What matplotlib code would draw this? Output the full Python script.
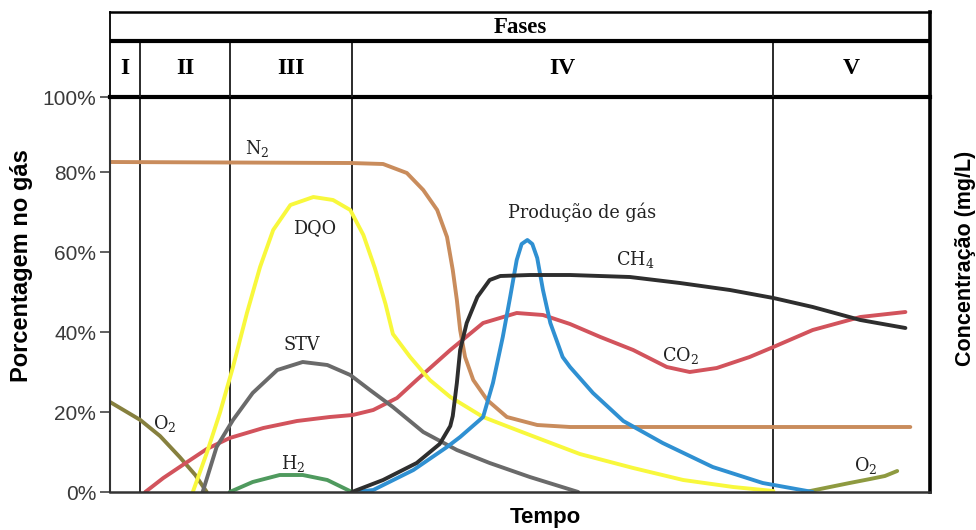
import matplotlib
matplotlib.use("Agg")
import matplotlib.pyplot as plt

# phases (time units 0-100 across the plot)
phase_edges = [3.7, 14.6, 29.5, 80.9]
phase_names = ["I", "II", "III", "IV", "V"]

# curves: x = time, y = %
n2_x = [0, 29.3, 33.3, 36.2, 38.2, 39.9, 41.1, 41.8, 42.3, 42.7, 43.3, 44.3, 46.0, 48.4, 52.1, 56.1, 97.6]
n2_y = [82.5, 82.25, 82, 79.75, 75.5, 70.5, 63.75, 55.5, 48, 40.5, 33.75, 28, 23, 18.75, 16.75, 16.25, 16.25]

dqo_x = [10.1, 11.8, 13.4, 15.0, 16.7, 18.3, 19.9, 22.0, 24.8, 27.2, 29.3, 30.9, 32.3, 33.6,
         34.5, 36.6, 39.0, 41.5, 45.5, 49.6, 52.8, 57.3, 63.8, 69.9, 76.0, 80.9]
dqo_y = [0, 9.75, 19.75, 31.25, 44.75, 56.25, 65.5, 71.75, 73.75, 73, 70.5, 64.25, 56, 47,
         39.5, 33.75, 28, 23.75, 18.75, 15.5, 13, 9.5, 6, 3, 1.25, 0.25]

stv_x = [11.3, 13.0, 15.0, 17.4, 20.4, 23.5, 26.5, 29.3, 31.7, 34.5, 38.2, 42.3, 46.3, 51.2, 57.1]
stv_y = [0, 11.25, 18, 24.75, 30.5, 32.5, 31.75, 29.25, 25.5, 21.25, 15, 10.5, 7.25, 3.75, 0]

h2_x = [14.6, 17.4, 20.7, 23.5, 26.5, 29.5]
h2_y = [0, 2.5, 4.25, 4.25, 3, 0]

o2a_x = [0, 3.7, 6.1, 8.5, 10.4, 11.8]
o2a_y = [22.5, 18, 14, 8.75, 4.25, 0]

o2b_x = [84.8, 87.8, 90.2, 92.7, 94.5, 96.0]
o2b_y = [0, 1.25, 2.25, 3.25, 4, 5.25]

co2_x = [4.3, 6.5, 8.5, 11.8, 14.6, 18.7, 22.8, 26.8, 29.6, 32.1, 35.0, 37.4, 41.5, 45.5,
         49.6, 52.8, 56.1, 59.8, 63.8, 67.9, 70.7, 74.0, 78.0, 80.9, 85.7, 91.5, 97.0]
co2_y = [0, 3.5, 6.25, 10.75, 13.5, 16, 17.75, 18.75, 19.25, 20.5, 23.5, 28, 35.5, 42.25,
         44.75, 44.25, 42, 38.75, 35.5, 31.25, 30, 31, 33.75, 36.25, 40.5, 43.75, 45]

ch4_x = [29.5, 33.3, 37.4, 40.2, 41.5, 41.8, 42.3, 42.7, 43.5, 44.8, 46.3, 47.6, 51.2, 56.1,
         63.4, 69.5, 75.6, 80.9, 85.7, 91.5, 97.0]
ch4_y = [0, 3, 7.25, 12, 16.5, 19, 27.25, 35.5, 42.25, 48.75, 53, 54, 54.25, 54.25,
         53.75, 52.25, 50.5, 48.5, 46.25, 43, 41]

gas_x = [29.9, 32.1, 37.0, 41.1, 42.7, 45.5, 46.7, 47.9, 48.8, 49.6, 50.2, 50.9, 51.5, 52.1,
         52.8, 53.7, 55.2, 56.1, 58.9, 62.6, 67.4, 73.5, 79.6, 85.7]
gas_y = [0, 0.5, 5.5, 11.25, 13.75, 18.75, 27.25, 38.75, 48.75, 58, 62, 63, 62, 58.5,
         50.5, 42.25, 33.75, 31.25, 24.75, 17.75, 12.25, 6.25, 2.25, 0]

ytick_vals = [0, 20, 40, 60, 80, 98.75]
ytick_labels = ["0%", "20%", "40%", "60%", "80%", "100%"]

plt.rcParams["mathtext.fontset"] = "dejavuserif"

fig = plt.figure(figsize=(9.76, 5.3), dpi=100)
ax = fig.add_axes([110 / 976, 38 / 530, 820 / 976, 395 / 530])
hax = fig.add_axes([110 / 976, 433 / 530, 820 / 976, 85 / 530])

lw = 2.8
style = dict(lw=lw, solid_joinstyle="round", solid_capstyle="round")
ax.plot(n2_x, n2_y, color="#c98c5c", **style)
ax.plot(o2a_x, o2a_y, color="#86803e", **style)
ax.plot(o2b_x, o2b_y, color="#8e9a40", **style)
ax.plot(co2_x, co2_y, color="#d2535c", **style)
ax.plot(dqo_x, dqo_y, color="#f8f83c", **style)
ax.plot(stv_x, stv_y, color="#6a6a6a", **style)
ax.plot(h2_x, h2_y, color="#4f9a5e", **style)
ax.plot(gas_x, gas_y, color="#2f90d2", **style)
ax.plot(ch4_x, ch4_y, color="#2e2e2e", **style)

for e in phase_edges:
    ax.axvline(e, color="#1a1a1a", lw=1.3, zorder=0)
    hax.axvline(e, ymin=0, ymax=0.66, color="#1a1a1a", lw=1.3)

ax.set_xlim(0, 100)
ax.set_ylim(0, 98.75)
ax.set_xticks([])
ax.set_yticks(ytick_vals)
ax.set_yticklabels(ytick_labels, fontfamily="Liberation Sans", fontsize=15, color="#3a3a3a")
ax.tick_params(axis="y", length=7, width=1.2, color="#444444", pad=3)
ax.spines["left"].set_color("#333333")
ax.spines["left"].set_linewidth(1.5)
ax.spines["bottom"].set_color("#333333")
ax.spines["bottom"].set_linewidth(1.8)
ax.spines["right"].set_color("black")
ax.spines["right"].set_linewidth(2.6)
ax.spines["top"].set_color("black")
ax.spines["top"].set_linewidth(3.0)

# header table with phases
hax.set_facecolor("none")
hax.set_xlim(0, 100)
hax.set_ylim(0, 1)
hax.set_xticks([])
hax.set_yticks([])
hax.spines["bottom"].set_visible(False)
hax.spines["top"].set_linewidth(1.8)
hax.spines["left"].set_linewidth(1.3)
hax.spines["right"].set_linewidth(2.6)
hax.axhline(0.66, color="black", lw=3.0)
hax.text(50, 0.82, "Fases", ha="center", va="center", fontfamily="Liberation Serif",
         fontweight="bold", fontsize=16.5)
bounds = [0] + phase_edges + [100]
for i, name in enumerate(phase_names):
    hax.text((bounds[i] + bounds[i + 1]) / 2, 0.33, name, ha="center", va="center",
             fontfamily="Liberation Serif", fontweight="bold", fontsize=17)

# curve labels
lbl = dict(ha="center", va="center", fontfamily="DejaVu Serif", fontsize=12.7, color="#222222")
ax.text(18.0, 86, "N$_2$", **lbl)
ax.text(25.0, 66, "DQO", **lbl)
ax.text(23.4, 36.75, "STV", **lbl)
ax.text(22.3, 7.25, "H$_2$", **lbl)
ax.text(6.7, 17.25, "O$_2$", **lbl)
ax.text(57.6, 70, "Produção de gás", **lbl)
ax.text(64.0, 58, "CH$_4$", **lbl)
ax.text(69.6, 34.25, "CO$_2$", **lbl)
ax.text(92.1, 6.75, "O$_2$", **lbl)

# axis titles
fig.text(22 / 976, 0.498, "Porcentagem no gás", rotation=90, ha="center", va="center",
         fontfamily="Liberation Sans", fontweight="bold", fontsize=17)
fig.text(965 / 976, 0.513, "Concentração (mg/L)", rotation=90, ha="center", va="center",
         fontfamily="Liberation Sans", fontweight="bold", fontsize=15.5)
fig.text(545 / 976, 12 / 530, "Tempo", ha="center", va="center",
         fontfamily="Liberation Sans", fontweight="bold", fontsize=16)

fig.savefig("out.png", dpi=100)
